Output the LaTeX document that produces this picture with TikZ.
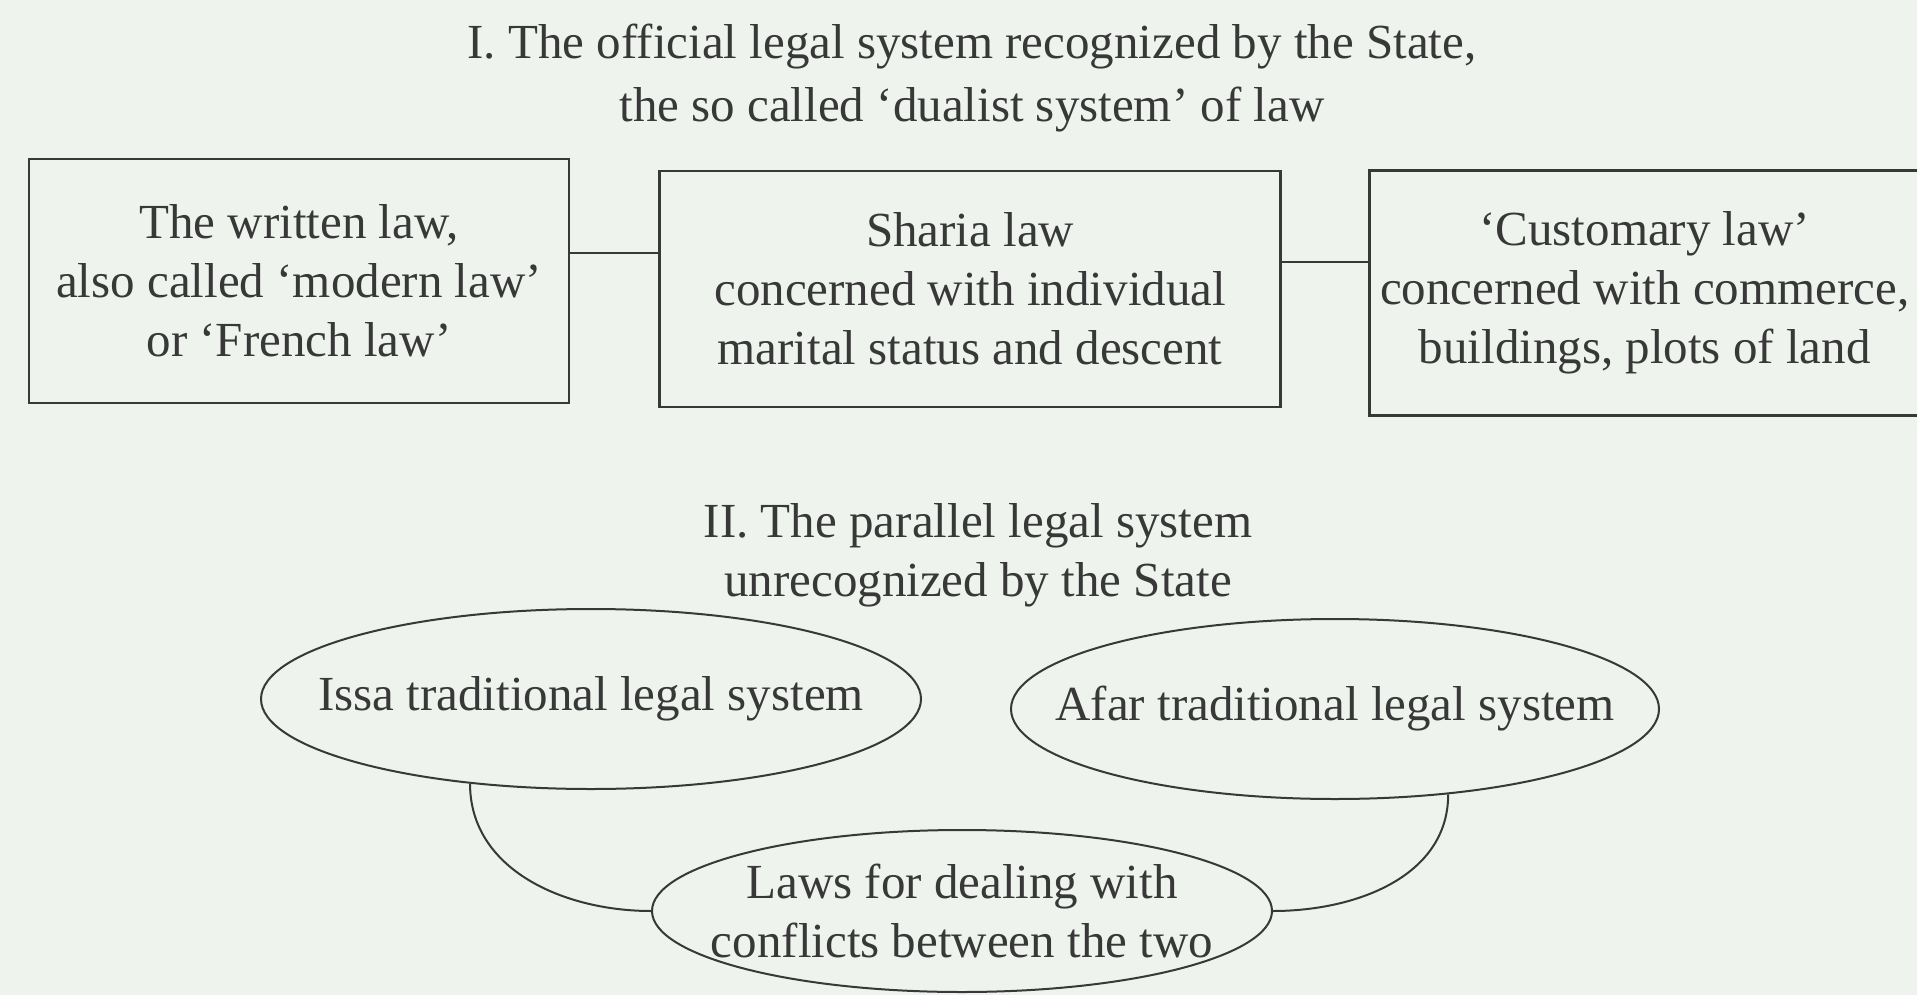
\documentclass[tikz,border=0pt]{standalone}
\usepackage{fontspec}
\setmainfont{Liberation Serif}
\usetikzlibrary{positioning,shapes.geometric}
\definecolor{paperGreen}{HTML}{EEF3EE}
\definecolor{inkGray}{HTML}{383838}

\tikzset{
  lawbox/.style={rectangle, draw=inkGray, line width=1.3pt, align=center},
  tradition/.style={ellipse, draw=inkGray, line width=1pt, inner sep=0pt},
  link/.style={draw=inkGray, line width=1pt}
}

\begin{document}
\begin{tikzpicture}[x=1pt, y=1pt, every node/.style={font=\fontsize{24.5}{29.5}\selectfont, text=inkGray}]
                        \fill[paperGreen] (0,0) rectangle (958.5,-497.5);
                        \useasboundingbox (0,0) rectangle (958.5,-497.5);

                        \node[align=center, font=\fontsize{24.5}{31.5}\selectfont] (official) at (486,-39) {I. The official legal system recognized by the State,\\the so called ‘dualist system’ of law};
                        \node[lawbox, minimum width=270pt, minimum height=122pt] (written) at (149.5,-140.5) {The written law,\\also called ‘modern law’\\or ‘French law’};
                        \node[lawbox, minimum width=310.5pt, minimum height=118pt] (sharia) [right=44pt of written, yshift=-4pt] {Sharia law\\concerned with individual\\marital status and descent};
                        \node[lawbox, minimum width=275.5pt, minimum height=122.5pt] (customary) [right=43pt of sharia, yshift=-2pt] {‘Customary law’\\concerned with commerce,\\buildings, plots of land};

                        \node[align=center] (parallel) at (489,-277.5) {II. The parallel legal system\\unrecognized by the State};
                        \node[tradition, minimum width=330pt, minimum height=90pt,
                              label={center:Issa traditional legal system}] (issa) at (295.5,-349.5) {};
                        \node[tradition, minimum width=324pt, minimum height=90pt,
                              label={center:Afar traditional legal system}] (afar) [right=44pt of issa, yshift=-5pt] {};
                        \node[tradition, minimum width=310pt, minimum height=81pt,
                              label={[align=center]center:Laws for dealing with\\conflicts between the two}] (laws) at (481,-455.5) {};

                        \path[link]
                            ([yshift=14pt]written.east) edge ([yshift=18pt]sharia.west)
                            ([yshift=13.5pt]sharia.east) edge ([yshift=15.5pt]customary.west)
                            (issa.215) edge[out=-90, in=180] (laws.west)
                            (afar.323) edge[out=-90, in=0] (laws.east)
                        ;
                    \end{tikzpicture}
\end{document}
